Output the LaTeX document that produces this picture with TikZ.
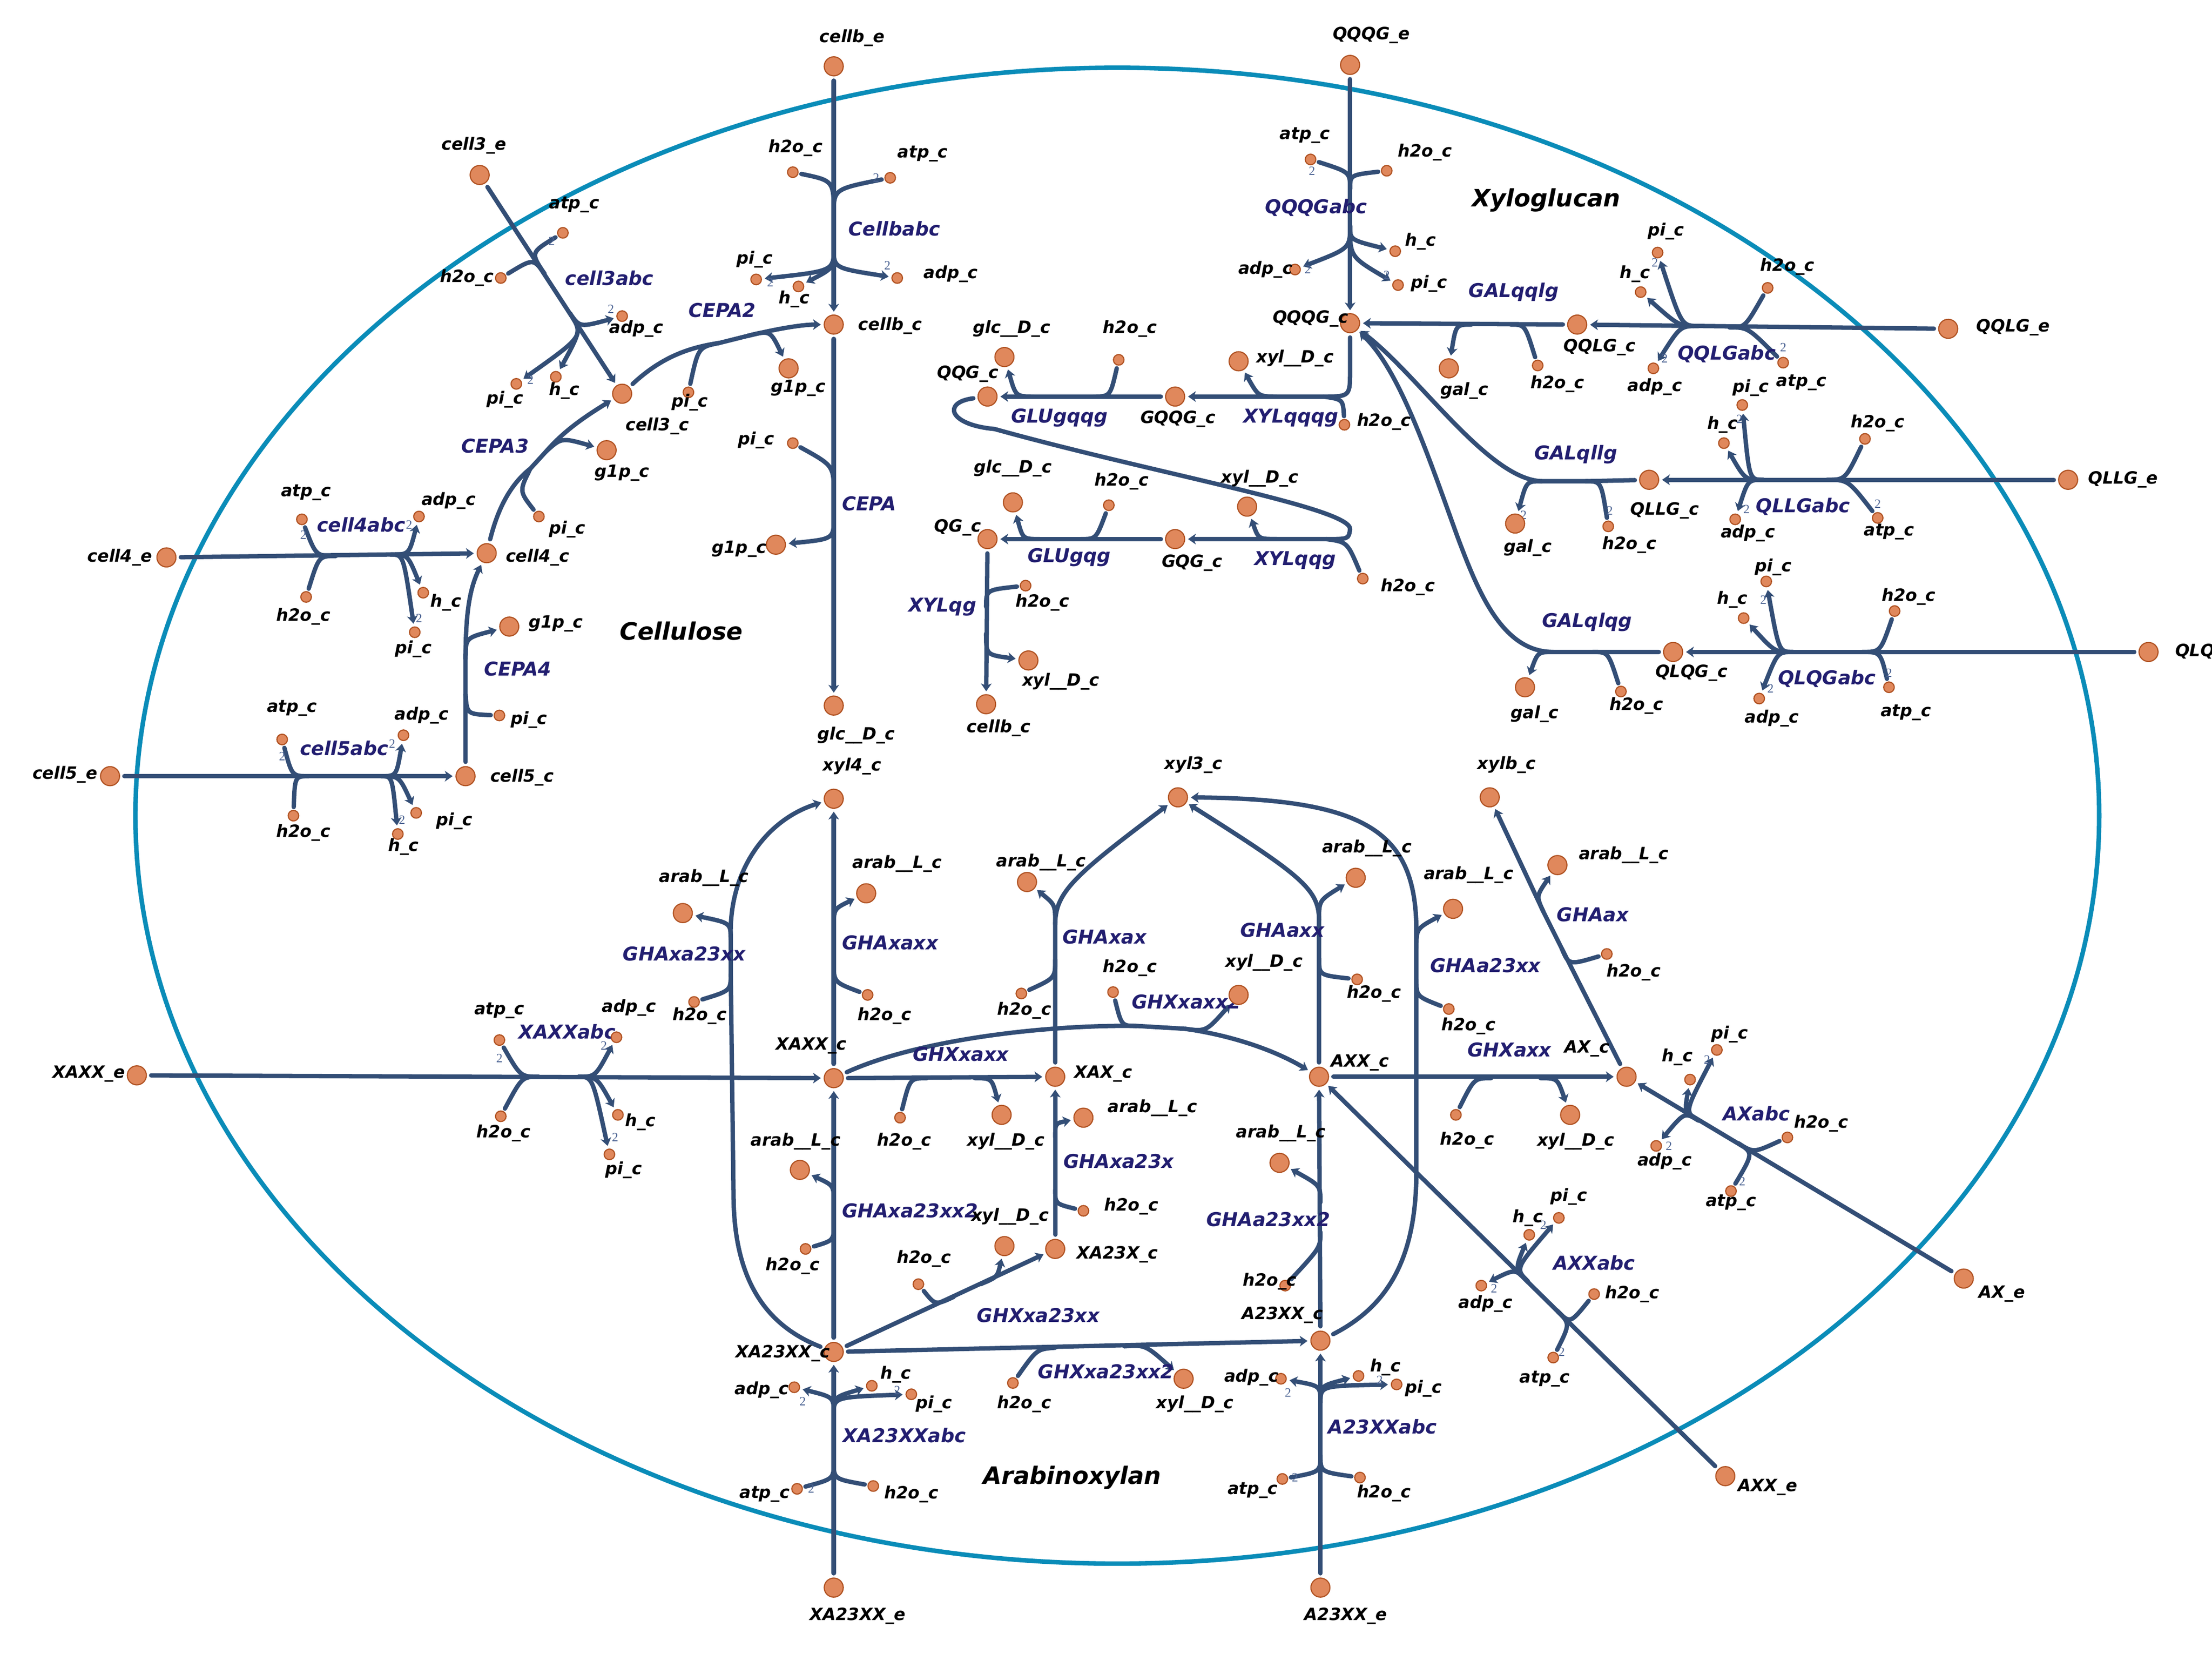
\documentclass[tikz,border=0pt]{standalone}
\usepackage{fontspec}
\setmainfont{DejaVu Sans}
\newfontfamily\stoichfont{Liberation Serif}
\usetikzlibrary{arrows.meta, backgrounds}

\definecolor{membrane}{RGB}{10,140,184}
\definecolor{rxline}{RGB}{51,78,118}
\definecolor{rxtext}{RGB}{34,30,112}
\definecolor{metfill}{RGB}{224,136,92}
\definecolor{metdraw}{RGB}{176,82,34}
\definecolor{stoichcol}{RGB}{74,98,146}

\begin{document}
\begin{tikzpicture}[x=1pt, y=-1pt, >={Stealth[length=5.5pt,width=7.5pt,inset=1.5pt]},
  met/.style={circle, draw=metdraw, fill=metfill, line width=0.8pt, minimum size=13.5pt, inner sep=0pt},
  cof/.style={met, minimum size=7.5pt},
  lbl/.style={font=\fontsize{12}{12}\selectfont\bfseries\itshape, inner sep=0pt},
  rlbl/.style={font=\fontsize{13.5}{13.5}\selectfont\bfseries\itshape, text=rxtext, inner sep=0pt},
  sect/.style={font=\fontsize{17}{17}\selectfont\bfseries\itshape, inner sep=0pt},
  two/.style={font=\stoichfont\fontsize{9}{9}\selectfont, text=stoichcol, inner sep=0pt},
  rxn/.style={draw=rxline, line width=3.1pt, line cap=round},
  mainrx/.style={rxn, ->, shorten <=3pt, shorten >=2pt},
  re/.style={rxn, shorten <=2pt},
  pr/.style={rxn, ->, shorten >=2pt}]

\useasboundingbox (0,0) rectangle (1568,1172);

% Primary metabolites (cellulose)
\node[met] (cellbE) at (591,47) {};
\node[met] (cellbC) at (591,230) {};
\node[met] (cell3E) at (340,124) {};
\node[met] (cell3C) at (441,279) {};
\node[met] (cell4E) at (118,395) {};
\node[met] (cell4C) at (345,392) {};
\node[met] (cell5E) at (78,550) {};
\node[met] (cell5C) at (330,550) {};
\node[met] (glcP1) at (591,500) {};
\node[met] (p1G1p) at (550,386) {};
\node[met] (p2G1p) at (559,261) {};
\node[met] (p3G1p) at (430,319) {};
\node[met] (p4G1p) at (361,444) {};

% Primary metabolites (xyloglucan)
\node[met] (QQQGE) at (957,46) {};
\node[met] (QQQGC) at (957,229) {};
\node[met] (GQQGC) at (833,281) {};
\node[met] (QQGC) at (700,281) {};
\node[met] (x1Xyl) at (878,256) {};
\node[met] (g1Glc) at (712,253) {};
\node[met] (GQGC) at (833,382) {};
\node[met] (QGC) at (700,382) {};
\node[met] (x2Xyl) at (884,359) {};
\node[met] (g2Glc) at (718,356) {};
\node[met] (cellbX) at (699,499) {};
\node[met] (x3Xyl) at (729,468) {};
\node[met] (QQLGE) at (1381,233) {};
\node[met] (QQLGC) at (1118,230) {};
\node[met] (gaGal) at (1027,261) {};
\node[met] (QLLGE) at (1466,340) {};
\node[met] (QLLGC) at (1169,340) {};
\node[met] (gbGal) at (1074,371) {};
\node[met] (QLQGE) at (1523,462) {};
\node[met] (QLQGC) at (1186,462) {};
\node[met] (gcGal) at (1081,487) {};

% Primary metabolites (arabinoxylan)
\node[met] (xyl4C) at (591,566) {};
\node[met] (xyl3C) at (835,565) {};
\node[met] (xylbC) at (1056,565) {};
\node[met] (XAXXC) at (591,764) {};
\node[met] (XAXC) at (748,763) {};
\node[met] (AXXC) at (935,763) {};
\node[met] (AXC) at (1153,763) {};
\node[met] (XA23XC) at (748,885) {};
\node[met] (XA23XXC) at (591,958) {};
\node[met] (A23XXC) at (936,950) {};
\node[met] (XAXXE) at (97,762) {};
\node[met] (AXE) at (1392,906) {};
\node[met] (AXXE) at (1223,1046) {};
\node[met] (XA23XXE) at (591,1125) {};
\node[met] (A23XXE) at (936,1125) {};
\node[met] (haArab) at (614,633) {};
\node[met] (hbArab) at (728,625) {};
\node[met] (hcArab) at (961,622) {};
\node[met] (hdArab) at (1030,644) {};
\node[met] (heArab) at (1104,613) {};
\node[met] (xxXyl) at (710,790) {};
\node[met] (xyXyl) at (878,705) {};
\node[met] (xzXyl) at (1113,790) {};
\node[met] (hfArab) at (484,647) {};
\node[met] (hgArab) at (567,829) {};
\node[met] (hhArab) at (768,792) {};
\node[met] (xwXyl) at (712,883) {};
\node[met] (xvXyl) at (839,977) {};
\node[met] (hiArab) at (907,824) {};

% Cofactors
\node[cof] (cbH2o) at (562,122) {};
\node[cof] (cbAtp) at (631,126) {};
\node[cof] (cbPi) at (536,198) {};
\node[cof] (cbH) at (566,203) {};
\node[cof] (cbAdp) at (636,197) {};
\node[cof] (c3Atp) at (399,165) {};
\node[cof] (c3H2o) at (355,197) {};
\node[cof] (c3Adp) at (441,224) {};
\node[cof] (c3Pi) at (366,272) {};
\node[cof] (c3H) at (394,267) {};
\node[cof] (p2Pi) at (488,278) {};
\node[cof] (p3Pi) at (382,366) {};
\node[cof] (c4Atp) at (214,368) {};
\node[cof] (c4Adp) at (297,366) {};
\node[cof] (c4H2o) at (217,423) {};
\node[cof] (c4H) at (300,420) {};
\node[cof] (c4Pi) at (294,448) {};
\node[cof] (p4Pi) at (354,507) {};
\node[cof] (c5Atp) at (200,524) {};
\node[cof] (c5Adp) at (286,521) {};
\node[cof] (c5H2o) at (208,578) {};
\node[cof] (c5Pi) at (295,576) {};
\node[cof] (c5H) at (282,591) {};
\node[cof] (p1Pi) at (562,314) {};
\node[cof] (qaAtp) at (929,113) {};
\node[cof] (qaH2o) at (983,121) {};
\node[cof] (qaH) at (989,178) {};
\node[cof] (qaAdp) at (918,191) {};
\node[cof] (qaPi) at (991,202) {};
\node[cof] (x1H2o) at (953,301) {};
\node[cof] (g1H2o) at (793,255) {};
\node[cof] (x2H2o) at (966,410) {};
\node[cof] (g2H2o) at (786,358) {};
\node[cof] (x3H2o) at (727,415) {};
\node[cof] (laPi) at (1175,179) {};
\node[cof] (laH) at (1163,207) {};
\node[cof] (laH2o) at (1253,204) {};
\node[cof] (laAdp) at (1172,261) {};
\node[cof] (laAtp) at (1264,257) {};
\node[cof] (gaH2o) at (1090,259) {};
\node[cof] (lbPi) at (1235,287) {};
\node[cof] (lbH) at (1222,314) {};
\node[cof] (lbH2o) at (1322,311) {};
\node[cof] (lbAdp) at (1230,368) {};
\node[cof] (lbAtp) at (1331,367) {};
\node[cof] (gbH2o) at (1140,373) {};
\node[cof] (lcPi) at (1252,412) {};
\node[cof] (lcH) at (1236,438) {};
\node[cof] (lcH2o) at (1343,433) {};
\node[cof] (lcAdp) at (1247,495) {};
\node[cof] (lcAtp) at (1339,487) {};
\node[cof] (gcH2o) at (1149,490) {};
\node[cof] (xaAtp) at (354,737) {};
\node[cof] (xaAdp) at (437,735) {};
\node[cof] (xaH2o) at (355,791) {};
\node[cof] (xaH) at (438,790) {};
\node[cof] (xaPi) at (432,818) {};
\node[cof] (haH2o) at (615,705) {};
\node[cof] (hbH2o) at (724,704) {};
\node[cof] (hcH2o) at (962,694) {};
\node[cof] (hdH2o) at (1027,715) {};
\node[cof] (heH2o) at (1139,676) {};
\node[cof] (xxH2o) at (638,792) {};
\node[cof] (xyH2o) at (789,703) {};
\node[cof] (xzH2o) at (1032,790) {};
\node[cof] (abPi) at (1217,744) {};
\node[cof] (abH) at (1198,765) {};
\node[cof] (abH2o) at (1267,806) {};
\node[cof] (abAdp) at (1174,812) {};
\node[cof] (abAtp) at (1227,844) {};
\node[cof] (aaPi) at (1105,863) {};
\node[cof] (aaH) at (1084,875) {};
\node[cof] (aaAdp) at (1050,911) {};
\node[cof] (aaH2o) at (1130,917) {};
\node[cof] (aaAtp) at (1101,962) {};
\node[cof] (yaAdp) at (563,983) {};
\node[cof] (yaH) at (618,982) {};
\node[cof] (yaPi) at (646,988) {};
\node[cof] (yaAtp) at (565,1055) {};
\node[cof] (yaH2o) at (619,1053) {};
\node[cof] (ybAdp) at (908,977) {};
\node[cof] (ybH) at (963,975) {};
\node[cof] (ybPi) at (990,981) {};
\node[cof] (ybAtp) at (909,1048) {};
\node[cof] (ybH2o) at (964,1047) {};
\node[cof] (hfH2o) at (492,710) {};
\node[cof] (hgH2o) at (571,885) {};
\node[cof] (hhH2o) at (768,858) {};
\node[cof] (xwH2o) at (651,910) {};
\node[cof] (xvH2o) at (718,980) {};
\node[cof] (hiH2o) at (911,911) {};

\begin{scope}[on background layer]
% Membrane
\draw[membrane, line width=3.2pt] (792,578) ellipse [x radius=696, y radius=530];

% Cellbabc
\coordinate (cbJ1) at (591,152);
\coordinate (cbJ2) at (591,176);
\draw[mainrx] (cellbE) -- (cellbC);
\draw[re] (cbH2o) .. controls (591,128) .. (cbJ1);
\draw[re] (cbAtp) .. controls (591,134) .. (cbJ1);
\draw[pr] (cbJ2) .. controls (591,192) .. (cbPi);
\draw[pr] (cbJ2) .. controls (591,190) .. (cbH);
\draw[pr] (cbJ2) .. controls (591,190) .. (cbAdp);

% cell3abc
\coordinate (c3J1) at (386,194);
\coordinate (c3J2) at (404,222);
\draw[mainrx] (cell3E) -- (cell3C);
\draw[re] (c3Atp) .. controls (376,179) .. (c3J1);
\draw[re] (c3H2o) .. controls (378,183) .. (c3J1);
\draw[pr] (c3J2) .. controls (414,238) .. (c3Pi);
\draw[pr] (c3J2) .. controls (412,234) .. (c3H);
\draw[pr] (c3J2) .. controls (411,232) .. (c3Adp);

% CEPA2
\coordinate (p2J1) at (510,243);
\coordinate (p2J2) at (530,238);
\draw[mainrx] (cell3C) .. controls (470,252) and (490,246) .. (p2J1) -- (p2J2) .. controls (555,232) and (570,230) .. (cellbC);
\draw[re] (p2Pi) .. controls (495,246) .. (p2J1);
\draw[pr] (p2J2) .. controls (546,234) .. (p2G1p);

% CEPA3
\coordinate (p3J1) at (376,332);
\coordinate (p3J2) at (387,320);
\draw[mainrx] (cell4C) .. controls (353,360) and (362,343) .. (p3J1) -- (p3J2) .. controls (400,305) and (415,295) .. (cell3C);
\draw[re] (p3Pi) .. controls (368,348) .. (p3J1);
\draw[pr] (p3J2) .. controls (398,310) .. (p3G1p);

% cell4abc
\coordinate (c4J1) at (238,394);
\coordinate (c4J2) at (277,393);
\draw[mainrx] (cell4E) -- (cell4C);
\draw[re] (c4Atp) .. controls (224,394) .. (c4J1);
\draw[re] (c4H2o) .. controls (226,394) .. (c4J1);
\draw[pr] (c4J2) .. controls (290,393) .. (c4Adp);
\draw[pr] (c4J2) .. controls (289,393) .. (c4H);
\draw[pr] (c4J2) .. controls (286,393) .. (c4Pi);

% CEPA4
\coordinate (p4J1) at (330,492);
\coordinate (p4J2) at (330,467);
\draw[mainrx] (cell5C) -- (p4J1) -- (p4J2) .. controls (330,430) and (334,415) .. (cell4C);
\draw[re] (p4Pi) .. controls (331,506) .. (p4J1);
\draw[pr] (p4J2) .. controls (330,452) .. (p4G1p);

% cell5abc
\coordinate (c5J1) at (219,550);
\coordinate (c5J2) at (270,550);
\draw[mainrx] (cell5E) -- (cell5C);
\draw[re] (c5Atp) .. controls (207,550) .. (c5J1);
\draw[re] (c5H2o) .. controls (209,550) .. (c5J1);
\draw[pr] (c5J2) .. controls (281,550) .. (c5Adp);
\draw[pr] (c5J2) .. controls (283,550) .. (c5Pi);
\draw[pr] (c5J2) .. controls (278,550) .. (c5H);

% CEPA
\coordinate (p1J1) at (591,350);
\coordinate (p1J2) at (591,367);
\draw[mainrx] (cellbC) -- (glcP1);
\draw[re] (p1Pi) .. controls (591,330) .. (p1J1);
\draw[pr] (p1J2) .. controls (591,382) .. (p1G1p);

% QQQGabc
\coordinate (qaJ1) at (957,134);
\coordinate (qaJ2) at (957,160);
\draw[mainrx] (QQQGE) -- (QQQGC);
\draw[re] (qaAtp) .. controls (957,122) .. (qaJ1);
\draw[re] (qaH2o) .. controls (957,124) .. (qaJ1);
\draw[pr] (qaJ2) .. controls (957,176) .. (qaAdp);
\draw[pr] (qaJ2) .. controls (957,170) .. (qaH);
\draw[pr] (qaJ2) .. controls (957,182) .. (qaPi);

% XYLqqqg
\coordinate (x1J1) at (938,281);
\coordinate (x1J2) at (905,281);
\draw[mainrx] (QQQGC) -- (957,262) .. controls (957,281) .. (x1J1) -- (GQQGC);
\draw[re] (x1H2o) .. controls (952,283) .. (x1J1);
\draw[pr] (x1J2) .. controls (892,281) .. (x1Xyl);

% GLUgqqg
\coordinate (g1J1) at (775,281);
\coordinate (g1J2) at (733,281);
\draw[mainrx] (GQQGC) -- (QQGC);
\draw[re] (g1H2o) .. controls (787,281) .. (g1J1);
\draw[pr] (g1J2) .. controls (720,281) .. (g1Glc);

% XYLqqg
\coordinate (x2J1) at (940,382);
\coordinate (x2J2) at (905,382);
\draw[mainrx] (QQGC) .. controls (668,285) and (672,301) .. (705,304) .. controls (820,336) and (958,360) .. (957,375) .. controls (956,382) .. (x2J1) -- (GQGC);
\draw[re] (x2H2o) .. controls (955,384) .. (x2J1);
\draw[pr] (x2J2) .. controls (892,382) .. (x2Xyl);

% GLUgqg
\coordinate (g2J1) at (766,382);
\coordinate (g2J2) at (737,382);
\draw[mainrx] (GQGC) -- (QGC);
\draw[re] (g2H2o) .. controls (777,382) .. (g2J1);
\draw[pr] (g2J2) .. controls (725,382) .. (g2Glc);

% XYLqg
\coordinate (x3J1) at (699,430);
\coordinate (x3J2) at (699,449);
\draw[mainrx] (QGC) -- (cellbX);
\draw[re] (x3H2o) .. controls (699,418) .. (x3J1);
\draw[pr] (x3J2) .. controls (699,464) .. (x3Xyl);

% QQLGabc
\coordinate (laJ1) at (1226,232);
\coordinate (laJ2) at (1204,231);
\draw[mainrx] (QQLGE) -- (QQLGC);
\draw[re] (laH2o) .. controls (1237,232) .. (laJ1);
\draw[re] (laAtp) .. controls (1239,232) .. (laJ1);
\draw[pr] (laJ2) .. controls (1192,231) .. (laPi);
\draw[pr] (laJ2) .. controls (1190,231) .. (laH);
\draw[pr] (laJ2) .. controls (1191,231) .. (laAdp);

% GALqqlg
\coordinate (gaJ1) at (1071,230);
\coordinate (gaJ2) at (1043,230);
\draw[mainrx] (QQLGC) -- (QQQGC);
\draw[re] (gaH2o) .. controls (1081,230) .. (gaJ1);
\draw[pr] (gaJ2) .. controls (1032,230) .. (gaGal);

% QLLGabc
\coordinate (lbJ1) at (1295,340);
\coordinate (lbJ2) at (1250,340);
\draw[mainrx] (QLLGE) -- (QLLGC);
\draw[re] (lbH2o) .. controls (1308,340) .. (lbJ1);
\draw[re] (lbAtp) .. controls (1310,340) .. (lbJ1);
\draw[pr] (lbJ2) .. controls (1240,340) .. (lbPi);
\draw[pr] (lbJ2) .. controls (1237,340) .. (lbH);
\draw[pr] (lbJ2) .. controls (1239,340) .. (lbAdp);

% GALqllg
\coordinate (gbJ1) at (1124,341);
\coordinate (gbJ2) at (1093,341);
\draw[mainrx] (QLLGC) -- (gbJ1) -- (gbJ2) .. controls (1055,340) and (1005,265) .. (QQQGC);
\draw[re] (gbH2o) .. controls (1135,341) .. (gbJ1);
\draw[pr] (gbJ2) .. controls (1082,341) .. (gbGal);

% QLQGabc
\coordinate (lcJ1) at (1320,462);
\coordinate (lcJ2) at (1271,462);
\draw[mainrx] (QLQGE) -- (QLQGC);
\draw[re] (lcH2o) .. controls (1333,462) .. (lcJ1);
\draw[re] (lcAtp) .. controls (1333,462) .. (lcJ1);
\draw[pr] (lcJ2) .. controls (1261,462) .. (lcPi);
\draw[pr] (lcJ2) .. controls (1258,462) .. (lcH);
\draw[pr] (lcJ2) .. controls (1260,462) .. (lcAdp);

% GALqlqg
\coordinate (gcJ1) at (1129,462);
\coordinate (gcJ2) at (1101,462);
\draw[mainrx] (QLQGC) -- (gcJ1) -- (gcJ2) .. controls (1065,462) and (1048,420) .. (1033,380) .. controls (1012,322) and (992,262) .. (QQQGC);
\draw[re] (gcH2o) .. controls (1140,462) .. (gcJ1);
\draw[pr] (gcJ2) .. controls (1090,462) .. (gcGal);

% XAXXabc
\coordinate (xaJ1) at (382,763);
\coordinate (xaJ2) at (410,763);
\draw[mainrx] (XAXXE) -- (XAXXC);
\draw[re] (xaAtp) .. controls (369,763) .. (xaJ1);
\draw[re] (xaH2o) .. controls (370,763) .. (xaJ1);
\draw[pr] (xaJ2) .. controls (422,763) .. (xaAdp);
\draw[pr] (xaJ2) .. controls (423,763) .. (xaH);
\draw[pr] (xaJ2) .. controls (420,763) .. (xaPi);

% GHAxaxx
\coordinate (haJ1) at (591,682);
\coordinate (haJ2) at (591,658);
\draw[mainrx] (XAXXC) -- (xyl4C);
\draw[re] (haH2o) .. controls (591,696) .. (haJ1);
\draw[pr] (haJ2) .. controls (591,644) .. (haArab);

% GHAxax
\coordinate (hbJ1) at (748,680);
\coordinate (hbJ2) at (748,655);
\draw[mainrx] (XAXC) -- (hbJ1) -- (hbJ2) .. controls (748,632) and (762,620) .. (xyl3C);
\draw[re] (hbH2o) .. controls (748,693) .. (hbJ1);
\draw[pr] (hbJ2) .. controls (748,641) .. (hbArab);

% GHAaxx
\coordinate (hcJ1) at (935,679);
\coordinate (hcJ2) at (935,652);
\draw[mainrx] (AXXC) -- (hcJ1) -- (hcJ2) .. controls (935,630) and (922,620) .. (xyl3C);
\draw[re] (hcH2o) .. controls (935,691) .. (hcJ1);
\draw[pr] (hcJ2) .. controls (935,638) .. (hcArab);

% GHAa23xx
\coordinate (hdJ1) at (1004,694);
\coordinate (hdJ2) at (1004,672);
\draw[mainrx] (A23XXC) .. controls (985,925) and (1004,890) .. (1004,830) -- (hdJ1) -- (hdJ2) -- (1004,660) .. controls (1004,590) and (970,566) .. (xyl3C);
\draw[re] (hdH2o) .. controls (1004,706) .. (hdJ1);
\draw[pr] (hdJ2) .. controls (1004,658) .. (hdArab);

% GHAax
\coordinate (heJ1) at (1107,672);
\coordinate (heJ2) at (1094,646);
\draw[mainrx] (AXC) -- (heJ1) -- (heJ2) -- (xylbC);
\draw[re] (heH2o) .. controls (1112,684) .. (heJ1);
\draw[pr] (heJ2) .. controls (1089,635) .. (heArab);

% GHXxaxx
\coordinate (xxJ1) at (657,764);
\coordinate (xxJ2) at (691,764);
\draw[mainrx] (XAXXC) -- (XAXC);
\draw[re] (xxH2o) .. controls (645,764) .. (xxJ1);
\draw[pr] (xxJ2) .. controls (703,764) .. (xxXyl);

% GHXxaxx2
\coordinate (xyJ1) at (806,727);
\coordinate (xyJ2) at (840,729);
\draw[mainrx] (XAXXC) .. controls (650,737) and (740,726) .. (xyJ1) -- (xyJ2) .. controls (875,734) and (905,745) .. (AXXC);
\draw[re] (xyH2o) .. controls (795,727) .. (xyJ1);
\draw[pr] (xyJ2) .. controls (855,731) .. (xyXyl);

% GHXaxx
\coordinate (xzJ1) at (1057,764);
\coordinate (xzJ2) at (1092,764);
\draw[mainrx] (AXXC) -- (AXC);
\draw[re] (xzH2o) .. controls (1045,764) .. (xzJ1);
\draw[pr] (xzJ2) .. controls (1104,764) .. (xzXyl);

% AXabc
\coordinate (abJ1) at (1232,810);
\coordinate (abJ2) at (1204,794);
\draw[mainrx] (AXE) -- (AXC);
\draw[re] (abH2o) .. controls (1243,817) .. (abJ1);
\draw[re] (abAtp) .. controls (1243,817) .. (abJ1);
\draw[pr] (abJ2) .. controls (1194,788) .. (abPi);
\draw[pr] (abJ2) .. controls (1194,788) .. (abH);
\draw[pr] (abJ2) .. controls (1194,788) .. (abAdp);

% AXXabc
\coordinate (aaJ1) at (1104,929);
\coordinate (aaJ2) at (1083,908);
\draw[mainrx] (AXXE) -- (AXXC);
\draw[re] (aaH2o) .. controls (1113,938) .. (aaJ1);
\draw[re] (aaAtp) .. controls (1113,938) .. (aaJ1);
\draw[pr] (aaJ2) .. controls (1074,899) .. (aaPi);
\draw[pr] (aaJ2) .. controls (1074,899) .. (aaH);
\draw[pr] (aaJ2) .. controls (1074,899) .. (aaAdp);

% XA23XXabc
\coordinate (yaJ1) at (591,1036);
\coordinate (yaJ2) at (591,1002);
\draw[mainrx] (XA23XXE) -- (XA23XXC);
\draw[re] (yaAtp) .. controls (591,1048) .. (yaJ1);
\draw[re] (yaH2o) .. controls (591,1048) .. (yaJ1);
\draw[pr] (yaJ2) .. controls (591,990) .. (yaAdp);
\draw[pr] (yaJ2) .. controls (591,990) .. (yaH);
\draw[pr] (yaJ2) .. controls (591,990) .. (yaPi);

% A23XXabc
\coordinate (ybJ1) at (936,1031);
\coordinate (ybJ2) at (936,994);
\draw[mainrx] (A23XXE) -- (A23XXC);
\draw[re] (ybAtp) .. controls (936,1043) .. (ybJ1);
\draw[re] (ybH2o) .. controls (936,1043) .. (ybJ1);
\draw[pr] (ybJ2) .. controls (936,982) .. (ybAdp);
\draw[pr] (ybJ2) .. controls (936,982) .. (ybH);
\draw[pr] (ybJ2) .. controls (936,982) .. (ybPi);

% GHAxa23xx
\coordinate (hfJ1) at (518,690);
\coordinate (hfJ2) at (518,666);
\draw[mainrx] (XA23XXC) .. controls (545,940) and (521,910) .. (520,850) -- (hfJ1) -- (hfJ2) .. controls (516,615) and (545,580) .. (xyl4C);
\draw[re] (hfH2o) .. controls (518,702) .. (hfJ1);
\draw[pr] (hfJ2) .. controls (518,654) .. (hfArab);

% GHAxa23xx2
\coordinate (hgJ1) at (591,868);
\coordinate (hgJ2) at (591,852);
\draw[mainrx] (XA23XXC) -- (XAXXC);
\draw[re] (hgH2o) .. controls (591,879) .. (hgJ1);
\draw[pr] (hgJ2) .. controls (591,840) .. (hgArab);

% GHAxa23x
\coordinate (hhJ1) at (748,843);
\coordinate (hhJ2) at (748,806);
\draw[mainrx] (XA23XC) -- (XAXC);
\draw[re] (hhH2o) .. controls (748,853) .. (hhJ1);
\draw[pr] (hhJ2) .. controls (748,796) .. (hhArab);

% GHXxa23xx
\coordinate (xwJ1) at (676,919);
\coordinate (xwJ2) at (695,910);
\draw[mainrx] (XA23XXC) -- (XA23XC);
\draw[re] (xwH2o) .. controls (663,925) .. (xwJ1);
\draw[pr] (xwJ2) .. controls (707,905) .. (xwXyl);

% GHXxa23xx2
\coordinate (xvJ1) at (748,955);
\coordinate (xvJ2) at (797,954);
\draw[mainrx] (XA23XXC) -- (A23XXC);
\draw[re] (xvH2o) .. controls (735,956) .. (xvJ1);
\draw[pr] (xvJ2) .. controls (812,953) .. (xvXyl);

% GHAa23xx2
\coordinate (hiJ1) at (936,873);
\coordinate (hiJ2) at (936,852);
\draw[mainrx] (A23XXC) -- (AXXC);
\draw[re] (hiH2o) .. controls (936,884) .. (hiJ1);
\draw[pr] (hiJ2) .. controls (936,840) .. (hiArab);

% Reaction labels
\node[rlbl] (rCellbabc) at (634,162) {Cellbabc};
\node[rlbl] (rCell3abc) at (432,197) {cell3abc};
\node[rlbl] (rCEPA2) at (512,220) {CEPA2};
\node[rlbl] (rCEPA3) at (351,316) {CEPA3};
\node[rlbl] (rCell4abc) at (256,372) {cell4abc};
\node[rlbl] (rCEPA4) at (367,474) {CEPA4};
\node[rlbl] (rCell5abc) at (244,530) {cell5abc};
\node[rlbl] (rCEPA) at (616,357) {CEPA};
\node[rlbl] (rQQQGabc) at (933,147) {QQQGabc};
\node[rlbl] (rXYLqqqg) at (915,296) {XYLqqqg};
\node[rlbl] (rGLUgqqg) at (751,296) {GLUgqqg};
\node[rlbl] (rXYLqqg) at (918,397) {XYLqqg};
\node[rlbl] (rGLUgqg) at (758,395) {GLUgqg};
\node[rlbl] (rXYLqg) at (668,430) {XYLqg};
\node[rlbl] (rQQLGabc) at (1224,251) {QQLGabc};
\node[rlbl] (rGALqqlg) at (1073,207) {GALqqlg};
\node[rlbl] (rQLLGabc) at (1278,359) {QLLGabc};
\node[rlbl] (rGALqllg) at (1117,322) {GALqllg};
\node[rlbl] (rQLQGabc) at (1295,481) {QLQGabc};
\node[rlbl] (rGALqlqg) at (1125,441) {GALqlqg};
\node[rlbl] (rXAXXabc) at (402,731) {XAXXabc};
\node[rlbl] (rGHAxaxx) at (631,668) {GHAxaxx};
\node[rlbl] (rGHAxax) at (783,664) {GHAxax};
\node[rlbl] (rGHAaxx) at (909,659) {GHAaxx};
\node[rlbl] (rGHAa23xx) at (1053,684) {GHAa23xx};
\node[rlbl] (rGHAax) at (1129,648) {GHAax};
\node[rlbl] (rGHXxaxx) at (681,747) {GHXxaxx};
\node[rlbl] (rGHXxaxx2) at (841,710) {GHXxaxx2};
\node[rlbl] (rGHXaxx) at (1070,744) {GHXaxx};
\node[rlbl] (rAXabc) at (1245,789) {AXabc};
\node[rlbl] (rAXXabc) at (1130,895) {AXXabc};
\node[rlbl] (rXA23XXabc) at (641,1017) {XA23XXabc};
\node[rlbl] (rA23XXabc) at (980,1011) {A23XXabc};
\node[rlbl] (rGHAxa23xx) at (485,676) {GHAxa23xx};
\node[rlbl] (rGHAxa23xx2) at (645,858) {GHAxa23xx2};
\node[rlbl] (rGHAxa23x) at (793,823) {GHAxa23x};
\node[rlbl] (rGHXxa23xx) at (736,932) {GHXxa23xx};
\node[rlbl] (rGHXxa23xx2) at (784,972) {GHXxa23xx2};
\node[rlbl] (rGHAa23xx2) at (899,864) {GHAa23xx2};

% Stoichiometry
\node[two] (sCb1) at (621,126) {2};
\node[two] (sCb2) at (546,200) {2};
\node[two] (sCb3) at (629,188) {2};
\node[two] (sC31) at (391,171) {2};
\node[two] (sC32) at (433,219) {2};
\node[two] (sC33) at (376,269) {2};
\node[two] (sC41) at (215,379) {2};
\node[two] (sC42) at (290,372) {2};
\node[two] (sC43) at (297,438) {2};
\node[two] (sC51) at (200,536) {2};
\node[two] (sC52) at (278,527) {2};
\node[two] (sC53) at (285,581) {2};
\node[two] (sQa1) at (930,121) {2};
\node[two] (sQa2) at (927,191) {2};
\node[two] (sQa3) at (983,195) {2};
\node[two] (sLa1) at (1173,186) {2};
\node[two] (sLa2) at (1180,254) {2};
\node[two] (sLa3) at (1264,246) {2};
\node[two] (sGb1) at (1080,365) {2};
\node[two] (sGb2) at (1141,362) {2};
\node[two] (sLb1) at (1233,297) {2};
\node[two] (sLb2) at (1238,361) {2};
\node[two] (sLb3) at (1331,357) {2};
\node[two] (sLc1) at (1250,425) {2};
\node[two] (sLc2) at (1255,488) {2};
\node[two] (sLc3) at (1339,477) {2};
\node[two] (sXa1) at (354,750) {2};
\node[two] (sXa2) at (428,741) {2};
\node[two] (sXa3) at (436,806) {2};
\node[two] (sAb1) at (1210,751) {2};
\node[two] (sAb2) at (1183,812) {2};
\node[two] (sAb3) at (1235,837) {2};
\node[two] (sAa1) at (1094,868) {2};
\node[two] (sAa2) at (1059,913) {2};
\node[two] (sAa3) at (1107,958) {2};
\node[two] (sYa1) at (569,993) {2};
\node[two] (sYa2) at (636,985) {2};
\node[two] (sYa3) at (575,1055) {2};
\node[two] (sYb1) at (913,987) {2};
\node[two] (sYb2) at (978,978) {2};
\node[two] (sYb3) at (918,1047) {2};
\end{scope}

% Section titles
\node[sect] (tXylo) at (1096,142) {Xyloglucan};
\node[sect] (tCell) at (483,447) {Cellulose};
\node[sect] (tArab) at (760,1047) {Arabinoxylan};

% Metabolite labels (cellulose)
\node[lbl] (cellbEl) at (604,27) {cellb\_e};
\node[lbl] (cellbCl) at (631,231) {cellb\_c};
\node[lbl] (cell3El) at (336,103) {cell3\_e};
\node[lbl] (cell3Cl) at (466,302) {cell3\_c};
\node[lbl] (cell4El) at (85,395) {cell4\_e};
\node[lbl] (cell4Cl) at (381,395) {cell4\_c};
\node[lbl] (cell5El) at (46,549) {cell5\_e};
\node[lbl] (cell5Cl) at (370,551) {cell5\_c};
\node[lbl] (glcP1l) at (607,521) {glc\_\_D\_c};
\node[lbl] (p1G1pl) at (524,389) {g1p\_c};
\node[lbl] (p2G1pl) at (566,275) {g1p\_c};
\node[lbl] (p3G1pl) at (441,335) {g1p\_c};
\node[lbl] (p4G1pl) at (394,442) {g1p\_c};
\node[lbl] (cbH2ol) at (564,105) {h2o\_c};
\node[lbl] (cbAtpl) at (654,109) {atp\_c};
\node[lbl] (cbPil) at (535,184) {pi\_c};
\node[lbl] (cbHl) at (563,212) {h\_c};
\node[lbl] (cbAdpl) at (674,194) {adp\_c};
\node[lbl] (c3Atpl) at (407,145) {atp\_c};
\node[lbl] (c3H2ol) at (331,197) {h2o\_c};
\node[lbl] (c3Adpl) at (451,233) {adp\_c};
\node[lbl] (c3Pil) at (358,283) {pi\_c};
\node[lbl] (c3Hl) at (400,277) {h\_c};
\node[lbl] (p2Pil) at (489,285) {pi\_c};
\node[lbl] (p3Pil) at (402,375) {pi\_c};
\node[lbl] (c4Atpl) at (217,349) {atp\_c};
\node[lbl] (c4Adpl) at (318,355) {adp\_c};
\node[lbl] (c4H2ol) at (215,437) {h2o\_c};
\node[lbl] (c4Hl) at (316,427) {h\_c};
\node[lbl] (c4Pil) at (293,460) {pi\_c};
\node[lbl] (p4Pil) at (375,510) {pi\_c};
\node[lbl] (c5Atpl) at (207,502) {atp\_c};
\node[lbl] (c5Adpl) at (299,507) {adp\_c};
\node[lbl] (c5H2ol) at (215,590) {h2o\_c};
\node[lbl] (c5Pil) at (322,582) {pi\_c};
\node[lbl] (c5Hl) at (286,600) {h\_c};
\node[lbl] (p1Pil) at (536,312) {pi\_c};

% Metabolite labels (xyloglucan)
\node[lbl] (QQQGEl) at (972,25) {QQQG\_e};
\node[lbl] (QQQGCl) at (929,226) {QQQG\_c};
\node[lbl] (qaAtpl) at (925,96) {atp\_c};
\node[lbl] (qaH2ol) at (1010,108) {h2o\_c};
\node[lbl] (qaHl) at (1007,171) {h\_c};
\node[lbl] (qaAdpl) at (897,191) {adp\_c};
\node[lbl] (qaPil) at (1013,201) {pi\_c};
\node[lbl] (GQQGCl) at (835,297) {GQQG\_c};
\node[lbl] (x1Xyll) at (918,254) {xyl\_\_D\_c};
\node[lbl] (x1H2ol) at (981,299) {h2o\_c};
\node[lbl] (QQGCl) at (686,265) {QQG\_c};
\node[lbl] (g1Glcl) at (717,233) {glc\_\_D\_c};
\node[lbl] (g1H2ol) at (801,233) {h2o\_c};
\node[lbl] (x2Xyll) at (893,339) {xyl\_\_D\_c};
\node[lbl] (x2H2ol) at (998,416) {h2o\_c};
\node[lbl] (GQGCl) at (845,399) {GQG\_c};
\node[lbl] (QGCl) at (679,374) {QG\_c};
\node[lbl] (g2Glcl) at (718,332) {glc\_\_D\_c};
\node[lbl] (g2H2ol) at (795,341) {h2o\_c};
\node[lbl] (cellbXl) at (708,516) {cellb\_c};
\node[lbl] (x3H2ol) at (739,427) {h2o\_c};
\node[lbl] (x3Xyll) at (752,483) {xyl\_\_D\_c};
\node[lbl] (QQLGEl) at (1427,232) {QQLG\_e};
\node[lbl] (QQLGCl) at (1134,246) {QQLG\_c};
\node[lbl] (laPil) at (1181,164) {pi\_c};
\node[lbl] (laHl) at (1159,194) {h\_c};
\node[lbl] (laH2ol) at (1267,189) {h2o\_c};
\node[lbl] (laAdpl) at (1173,274) {adp\_c};
\node[lbl] (laAtpl) at (1277,271) {atp\_c};
\node[lbl] (gaGall) at (1038,277) {gal\_c};
\node[lbl] (gaH2ol) at (1104,272) {h2o\_c};
\node[lbl] (QLLGEl) at (1505,340) {QLLG\_e};
\node[lbl] (QLLGCl) at (1180,362) {QLLG\_c};
\node[lbl] (lbPil) at (1241,275) {pi\_c};
\node[lbl] (lbHl) at (1221,301) {h\_c};
\node[lbl] (lbH2ol) at (1331,300) {h2o\_c};
\node[lbl] (lbAdpl) at (1239,378) {adp\_c};
\node[lbl] (lbAtpl) at (1339,377) {atp\_c};
\node[lbl] (gbGall) at (1083,388) {gal\_c};
\node[lbl] (gbH2ol) at (1155,386) {h2o\_c};
\node[lbl] (QLQGEl) at (1568,462) {QLQG\_e};
\node[lbl] (QLQGCl) at (1199,477) {QLQG\_c};
\node[lbl] (lcPil) at (1257,402) {pi\_c};
\node[lbl] (lcHl) at (1228,425) {h\_c};
\node[lbl] (lcH2ol) at (1353,423) {h2o\_c};
\node[lbl] (lcAdpl) at (1256,509) {adp\_c};
\node[lbl] (lcAtpl) at (1351,505) {atp\_c};
\node[lbl] (gcGall) at (1088,506) {gal\_c};
\node[lbl] (gcH2ol) at (1160,500) {h2o\_c};

% Metabolite labels (arabinoxylan)
\node[lbl] (xyl4Cl) at (604,543) {xyl4\_c};
\node[lbl] (xyl3Cl) at (846,542) {xyl3\_c};
\node[lbl] (xylbCl) at (1068,542) {xylb\_c};
\node[lbl] (XAXXCl) at (575,741) {XAXX\_c};
\node[lbl] (XAXCl) at (782,761) {XAX\_c};
\node[lbl] (AXXCl) at (964,753) {AXX\_c};
\node[lbl] (AXCl) at (1125,743) {AX\_c};
\node[lbl] (XA23XCl) at (792,889) {XA23X\_c};
\node[lbl] (XA23XXCl) at (555,959) {XA23XX\_c};
\node[lbl] (A23XXCl) at (909,932) {A23XX\_c};
\node[lbl] (XAXXEl) at (63,761) {XAXX\_e};
\node[lbl] (AXEl) at (1419,917) {AX\_e};
\node[lbl] (AXXEl) at (1253,1054) {AXX\_e};
\node[lbl] (XA23XXEl) at (608,1145) {XA23XX\_e};
\node[lbl] (A23XXEl) at (954,1145) {A23XX\_e};
\node[lbl] (xaAtpl) at (354,716) {atp\_c};
\node[lbl] (xaAdpl) at (446,714) {adp\_c};
\node[lbl] (xaH2ol) at (357,803) {h2o\_c};
\node[lbl] (xaHl) at (454,795) {h\_c};
\node[lbl] (xaPil) at (442,829) {pi\_c};
\node[lbl] (haArabl) at (636,612) {arab\_\_L\_c};
\node[lbl] (haH2ol) at (627,720) {h2o\_c};
\node[lbl] (hbArabl) at (738,611) {arab\_\_L\_c};
\node[lbl] (hbH2ol) at (726,716) {h2o\_c};
\node[lbl] (hcArabl) at (969,601) {arab\_\_L\_c};
\node[lbl] (hcH2ol) at (974,704) {h2o\_c};
\node[lbl] (hdArabl) at (1041,620) {arab\_\_L\_c};
\node[lbl] (hdH2ol) at (1041,727) {h2o\_c};
\node[lbl] (heArabl) at (1151,606) {arab\_\_L\_c};
\node[lbl] (heH2ol) at (1158,689) {h2o\_c};
\node[lbl] (xxH2ol) at (641,809) {h2o\_c};
\node[lbl] (xxXyll) at (713,809) {xyl\_\_D\_c};
\node[lbl] (xyH2ol) at (801,686) {h2o\_c};
\node[lbl] (xyXyll) at (896,682) {xyl\_\_D\_c};
\node[lbl] (xzH2ol) at (1040,808) {h2o\_c};
\node[lbl] (xzXyll) at (1117,809) {xyl\_\_D\_c};
\node[lbl] (abPil) at (1226,733) {pi\_c};
\node[lbl] (abHl) at (1189,749) {h\_c};
\node[lbl] (abH2ol) at (1291,796) {h2o\_c};
\node[lbl] (abAdpl) at (1180,823) {adp\_c};
\node[lbl] (abAtpl) at (1227,852) {atp\_c};
\node[lbl] (aaPil) at (1112,848) {pi\_c};
\node[lbl] (aaHl) at (1083,863) {h\_c};
\node[lbl] (aaAdpl) at (1053,924) {adp\_c};
\node[lbl] (aaH2ol) at (1157,917) {h2o\_c};
\node[lbl] (aaAtpl) at (1095,977) {atp\_c};
\node[lbl] (yaAdpl) at (540,985) {adp\_c};
\node[lbl] (yaHl) at (635,974) {h\_c};
\node[lbl] (yaPil) at (662,995) {pi\_c};
\node[lbl] (yaAtpl) at (542,1059) {atp\_c};
\node[lbl] (yaH2ol) at (646,1059) {h2o\_c};
\node[lbl] (ybAdpl) at (887,976) {adp\_c};
\node[lbl] (ybHl) at (982,969) {h\_c};
\node[lbl] (ybPil) at (1009,984) {pi\_c};
\node[lbl] (ybAtpl) at (888,1056) {atp\_c};
\node[lbl] (ybH2ol) at (981,1058) {h2o\_c};
\node[lbl] (hfArabl) at (499,622) {arab\_\_L\_c};
\node[lbl] (hfH2ol) at (496,720) {h2o\_c};
\node[lbl] (hgArabl) at (564,809) {arab\_\_L\_c};
\node[lbl] (hgH2ol) at (562,897) {h2o\_c};
\node[lbl] (hhArabl) at (817,785) {arab\_\_L\_c};
\node[lbl] (hhH2ol) at (802,855) {h2o\_c};
\node[lbl] (xwH2ol) at (655,892) {h2o\_c};
\node[lbl] (xwXyll) at (716,862) {xyl\_\_D\_c};
\node[lbl] (xvH2ol) at (726,995) {h2o\_c};
\node[lbl] (xvXyll) at (847,995) {xyl\_\_D\_c};
\node[lbl] (hiArabl) at (908,803) {arab\_\_L\_c};
\node[lbl] (hiH2ol) at (900,908) {h2o\_c};

\end{tikzpicture}
\end{document}
